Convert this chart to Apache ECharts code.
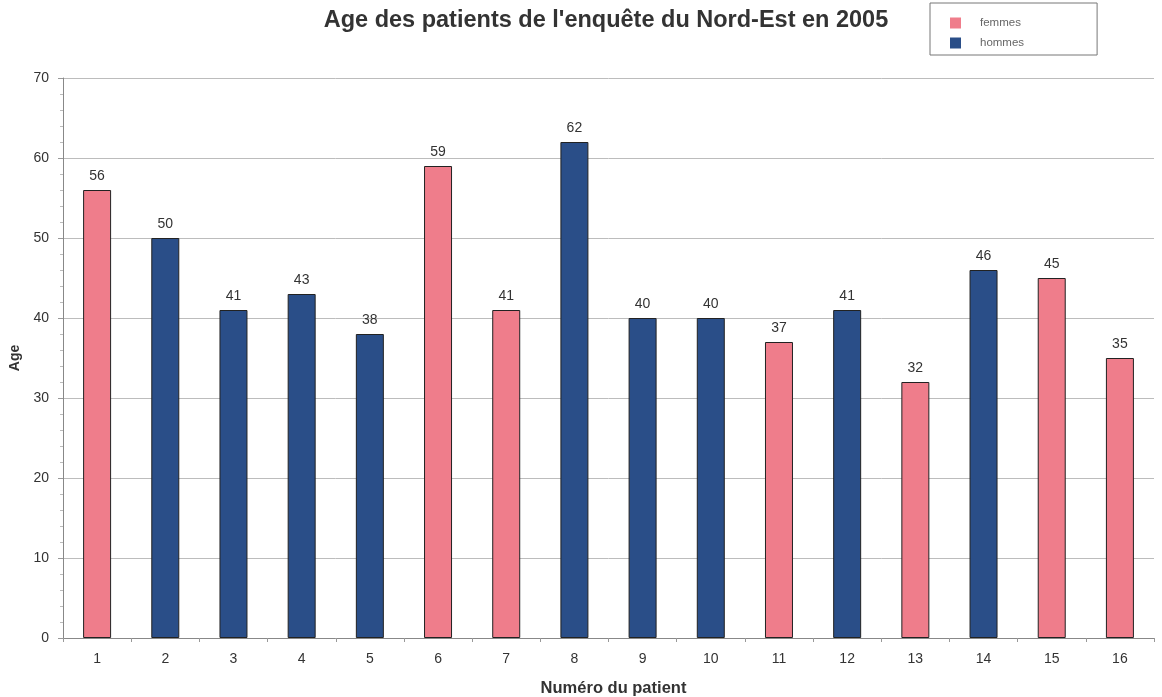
<!DOCTYPE html>
<html>
<head>
<meta charset="utf-8">
<script src="https://cdn.jsdelivr.net/npm/echarts@6/dist/echarts.min.js"></script>
<style>
  html, body { margin: 0; padding: 0; background: #fff; }
  #chart { width: 1162px; height: 697px; }
</style>
</head>
<body>
<div id="chart"></div>
<script>
// Patient numbers along the x axis
const patients = ['1','2','3','4','5','6','7','8','9','10','11','12','13','14','15','16'];
// Age of each patient, split by sex (null where the patient is of the other sex)
const femmes = [56, null, null, null, null, 59, 41, null, null, null, 37, null, 32, null, 45, 35];
const hommes = [null, 50, 41, 43, 38, null, null, 62, 40, 40, null, 41, null, 46, null, null];
const yTicks = [0, 10, 20, 30, 40, 50, 60, 70];

const font = '"Liberation Sans", Arial, sans-serif';
const chart = echarts.init(document.getElementById('chart'));

const labelStyle = {
  show: true,
  position: 'top',
  distance: 7,
  color: '#333',
  fontFamily: font,
  fontSize: 14
};

chart.setOption({
  animation: false,
  title: {
    text: "Age des patients de l'enquête du Nord-Est en 2005",
    left: 601,
    top: 4,
    textAlign: 'center',
    textStyle: { fontFamily: font, fontSize: 23.5, fontWeight: 'bold', color: '#333' }
  },
  legend: {
    orient: 'vertical',
    left: 930,
    top: 3,
    padding: [14, 73, 6, 20],
    icon: 'rect',
    itemWidth: 11,
    itemHeight: 11,
    itemGap: 8,
    borderColor: '#777',
    borderWidth: 1,
    itemStyle: { borderWidth: 0 },
    textStyle: { fontFamily: font, fontSize: 11.5, color: '#666', padding: [0, 0, 0, 14] },
    data: ['femmes', 'hommes']
  },
  grid: { left: 63, right: 8, top: 78, bottom: 59, containLabel: false, outerBoundsMode: 'none' },
  xAxis: {
    type: 'category',
    data: patients,
    name: 'Numéro du patient',
    nameLocation: 'middle',
    nameGap: 42,
    nameTextStyle: { fontFamily: font, fontSize: 16.5, fontWeight: 'bold', color: '#333', padding: [0, 0, 0, 10] },
    axisLine: { lineStyle: { color: '#888' } },
    axisTick: { show: true, alignWithLabel: false, length: 4, lineStyle: { color: '#999' } },
    axisLabel: { fontFamily: font, fontSize: 14, color: '#333', margin: 14 }
  },
  yAxis: {
    type: 'value',
    min: yTicks[0],
    max: yTicks[yTicks.length - 1],
    interval: 10,
    name: 'Age',
    nameLocation: 'middle',
    nameGap: 41,
    nameTextStyle: { fontFamily: font, fontSize: 14, fontWeight: 'bold', color: '#333' },
    axisLine: { show: true, lineStyle: { color: '#888' } },
    axisTick: { show: true, length: 5, lineStyle: { color: '#999' } },
    minorTick: { show: true, splitNumber: 5, length: 3, lineStyle: { color: '#bbb' } },
    splitLine: { show: true, lineStyle: { color: '#bcbcbc', width: 1 } },
    axisLabel: { fontFamily: font, fontSize: 14, color: '#333', margin: 14 }
  },
  series: [
    {
      name: 'femmes',
      type: 'bar',
      stack: 'age',
      barWidth: 28,
      data: femmes,
      itemStyle: { color: '#ef7d8b', borderColor: '#222', borderWidth: 1 },
      label: labelStyle
    },
    {
      name: 'hommes',
      type: 'bar',
      stack: 'age',
      barWidth: 28,
      data: hommes,
      itemStyle: { color: '#2a4e88', borderColor: '#222', borderWidth: 1 },
      label: labelStyle
    }
  ]
});
</script>
</body>
</html>
